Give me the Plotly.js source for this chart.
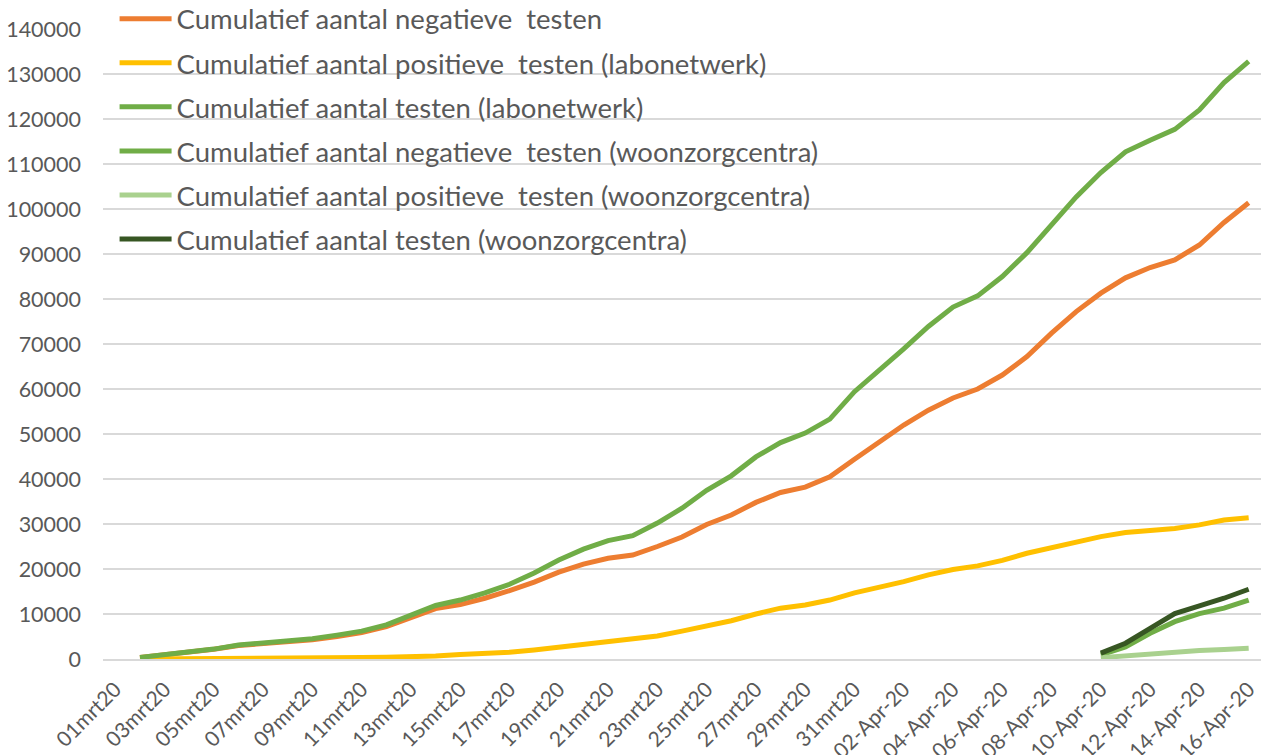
<!DOCTYPE html>
<html>
<head>
<meta charset="utf-8">
<script src="https://cdn.plot.ly/plotly-3.0.1.min.js"></script>
<style>html,body{margin:0;padding:0;background:#fff;overflow:hidden;}#chart{width:1261px;height:762px;margin-top:-7px;}</style>
</head>
<body>
<div id="chart"></div>
<script>
const dates = [
  "01mrt20","02mrt20","03mrt20","04mrt20","05mrt20","06mrt20","07mrt20","08mrt20","09mrt20","10mrt20",
  "11mrt20","12mrt20","13mrt20","14mrt20","15mrt20","16mrt20","17mrt20","18mrt20","19mrt20","20mrt20",
  "21mrt20","22mrt20","23mrt20","24mrt20","25mrt20","26mrt20","27mrt20","28mrt20","29mrt20","30mrt20","31mrt20",
  "01-Apr-20","02-Apr-20","03-Apr-20","04-Apr-20","05-Apr-20","06-Apr-20","07-Apr-20","08-Apr-20",
  "09-Apr-20","10-Apr-20","11-Apr-20","12-Apr-20","13-Apr-20","14-Apr-20","15-Apr-20","16-Apr-20"
];
const tickLabels = dates.filter((d, i) => i % 2 === 0);

// labonetwerk series (no value on 01mrt20)
const negLab = [null, 340, 900, 1450, 2150, 3000, 3350, 3700, 4250, 5000, 5850, 7200, 9300, 11200, 12100, 13500, 15200, 17100, 19300, 21100, 22400, 23100, 25000, 27100, 29900, 32000, 34800, 37000, 38200, 40500, 44400,
  48100, 52000, 55300, 58000, 60000, 63100, 67200, 72400, 77200, 81300, 84700, 87000, 88700, 92000, 97000, 101400];
const posLab = [null, 10, 20, 30, 60, 100, 150, 200, 250, 300, 350, 400, 500, 650, 1000, 1200, 1500, 2000, 2600, 3200, 3900, 4400, 5100, 6200, 7300, 8500, 10000, 11300, 12000, 13100, 14700,
  15900, 17200, 18700, 19900, 20700, 21900, 23500, 24700, 26100, 27200, 28100, 28500, 29000, 29800, 30900, 31400];
const totLab = [null, 350, 900, 1500, 2200, 3100, 3500, 3900, 4500, 5300, 6200, 7600, 9800, 11900, 13100, 14700, 16600, 19100, 22000, 24400, 26300, 27400, 30200, 33500, 37500, 40700, 44900, 48100, 50200, 53300, 59400,
  64100, 68900, 73900, 78200, 80700, 85000, 90300, 96600, 102700, 108100, 112700, 115300, 117700, 122000, 128100, 132800];

// woonzorgcentra series (10-Apr-20 .. 16-Apr-20)
const wzcDates = ["10-Apr-20","11-Apr-20","12-Apr-20","13-Apr-20","14-Apr-20","15-Apr-20","16-Apr-20"];
const negWzc = [900, 2700, 5700, 8300, 10100, 11300, 13100];
const posWzc = [300, 700, 1250, 1600, 1900, 2100, 2400];
const totWzc = [1300, 3500, 6800, 10100, 11800, 13500, 15500];

const seriesNames = [
  "Cumulatief aantal negatieve\u00a0 testen",
  "Cumulatief aantal positieve\u00a0 testen (labonetwerk)",
  "Cumulatief aantal testen (labonetwerk)",
  "Cumulatief aantal negatieve\u00a0 testen (woonzorgcentra)",
  "Cumulatief aantal positieve\u00a0 testen (woonzorgcentra)",
  "Cumulatief aantal testen (woonzorgcentra)"
];
const colors = ["#ED7D31", "#FFC000", "#70AD47", "#70AD47", "#A9D18E", "#375623"];
const xs = [dates, dates, dates, wzcDates, wzcDates, wzcDates];
const ys = [negLab, posLab, totLab, negWzc, posWzc, totWzc];

const traces = ys.map((y, k) => ({
  type: "scatter",
  mode: "lines",
  x: xs[k],
  y: y,
  name: seriesNames[k],
  legendgroup: "g" + k,
  line: {color: colors[k], width: 5},
  connectgaps: false,
  hoverinfo: "x+y"
}));

const font = "Lato, 'Liberation Sans', Arial, sans-serif";
const layout = {
  width: 1261,
  height: 762,
  margin: {l: 103, r: 0, t: 36, b: 96},
  paper_bgcolor: "#ffffff",
  plot_bgcolor: "#ffffff",
  font: {family: font, color: "#595959"},
  showlegend: true,
  legend: {
    x: 0.010, y: 1.055, xanchor: "left", yanchor: "top",
    bgcolor: "rgba(0,0,0,0)",
    font: {family: font, size: 27.5, color: "#595959"},
    tracegroupgap: 5.3,
    itemwidth: 52
  },
  xaxis: {
    type: "category",
    categoryorder: "array",
    categoryarray: dates,
    range: [-0.5, dates.length - 0.5],
    tickmode: "array",
    tickvals: tickLabels,
    ticktext: tickLabels,
    tickangle: -45,
    tickfont: {family: font, size: 21, color: "#595959"},
    ticklabelstandoff: 8,
    showgrid: false,
    showline: true,
    linecolor: "#D9D9D9",
    linewidth: 1.5,
    ticks: "",
    zeroline: false,
    automargin: false
  },
  yaxis: {
    range: [0, 140000],
    tickmode: "linear",
    tick0: 0,
    dtick: 10000,
    tickformat: "d",
    tickfont: {family: font, size: 21.5, color: "#595959"},
    showgrid: true,
    gridcolor: "#D9D9D9",
    gridwidth: 1.5,
    zeroline: false,
    showline: false,
    ticks: "",
    ticklabelstandoff: 21,
    automargin: false
  }
};

Plotly.newPlot("chart", traces, layout, {displayModeBar: false, responsive: false});
</script>
</body>
</html>
